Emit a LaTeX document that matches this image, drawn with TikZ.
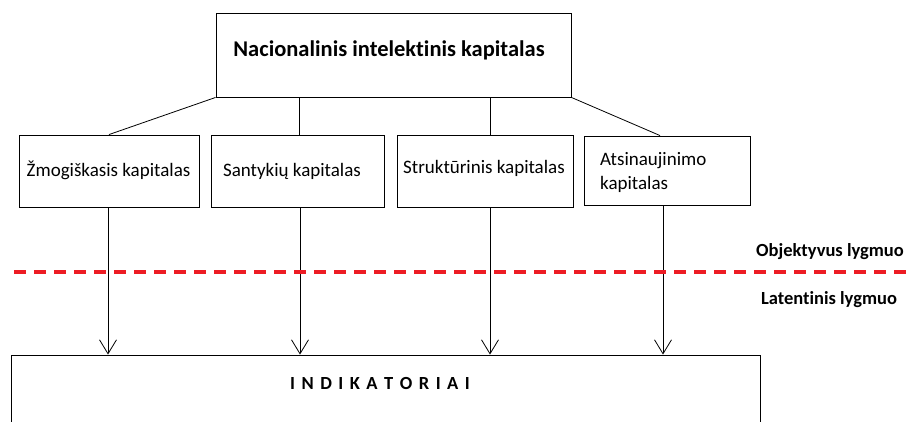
\documentclass[tikz,border=0pt]{standalone}
\usepackage{fontspec}
\setmainfont[Ligatures=NoCommon]{Carlito}
\usetikzlibrary{arrows.meta}
\newcommand{\lsp}{\hspace{6.5pt}}
\begin{document}
\begin{tikzpicture}[x=1pt,y=-1pt,
  box/.style={draw=black,line width=0.9pt,minimum width=#1,inner sep=0pt},
  btxt/.style={font=\fontsize{19}{24}\selectfont,inner sep=0pt},
  lvl/.style={font=\bfseries\fontsize{18.5}{22}\selectfont,inner sep=0pt},
  conn/.style={draw=black,line width=0.8pt},
  arr/.style={conn,-{Straight Barb[length=14pt,width=17pt,line width=0.8pt]}},
  reddash/.style={draw={rgb,255:red,237;green,28;blue,36},line width=3.5pt,dash pattern=on 12pt off 8pt}]
\useasboundingbox (0,0) rectangle (910,421);
\clip (0,0) rectangle (910,421);
% boxes
\node[box=355pt,minimum height=84pt] (top) at (393.5,55) {};
\node[box=180pt,minimum height=72pt] (b1) at (109,171) {};
\node[box=173pt,minimum height=72pt] (b2) at (297.5,171) {};
\node[box=176pt,minimum height=72pt] (b3) at (485,171) {};
\node[box=166pt,minimum height=69pt] (b4) at (667,170.5) {};
\node[box=749pt,minimum height=120pt] (ind) at (385.5,415) {};
% texts
\node[font=\bfseries\fontsize{22.5}{26}\selectfont,inner sep=0pt] (ttop) at (389,50) {Nacionalinis intelektinis kapitalas};
\node[btxt] (t1) at (108.5,170) {Žmogiškasis kapitalas};
\node[btxt] (t2) at (292,171) {Santykių kapitalas};
\node[btxt] (t3) at (484,168) {Struktūrinis kapitalas};
\node[btxt,anchor=west,align=left] (t4) at (600,172) {Atsinaujinimo\\kapitalas};
\node[lvl] (obj) at (830,252) {Objektyvus lygmuo};
\node[lvl] (lat) at (829,300) {Latentinis lygmuo};
\node[lvl] (tind) at (380,383) {I\lsp N\lsp D\lsp I\lsp K\lsp A\lsp T\lsp O\lsp R\lsp I\lsp A\lsp I};
% connectors from top box
\draw[conn] (top.south west) -- (b1.north);
\draw[conn] ([xshift=-94.5pt]top.south) -- ([xshift=-94.5pt]top.south |- b2.north);
\draw[conn] ([xshift=96.5pt]top.south) -- ([xshift=96.5pt]top.south |- b3.north);
\draw[conn] (top.south east) -- ([xshift=-7pt]b4.north);
% arrows down
\draw[arr] ([xshift=-1pt]b1.south) -- ([xshift=-1pt]b1.south |- ind.north);
\draw[arr] ([xshift=2.5pt]b2.south) -- ([xshift=2.5pt]b2.south |- ind.north);
\draw[arr] ([xshift=5pt]b3.south) -- ([xshift=5pt]b3.south |- ind.north);
\draw[arr] ([xshift=-4pt]b4.south) -- ([xshift=-4pt]b4.south |- ind.north);
% red dashed level line
\coordinate (dl) at (14,272);
\coordinate (dr) at (910,272);
\draw[reddash] (dl) -- (dr);
\end{tikzpicture}
\end{document}
